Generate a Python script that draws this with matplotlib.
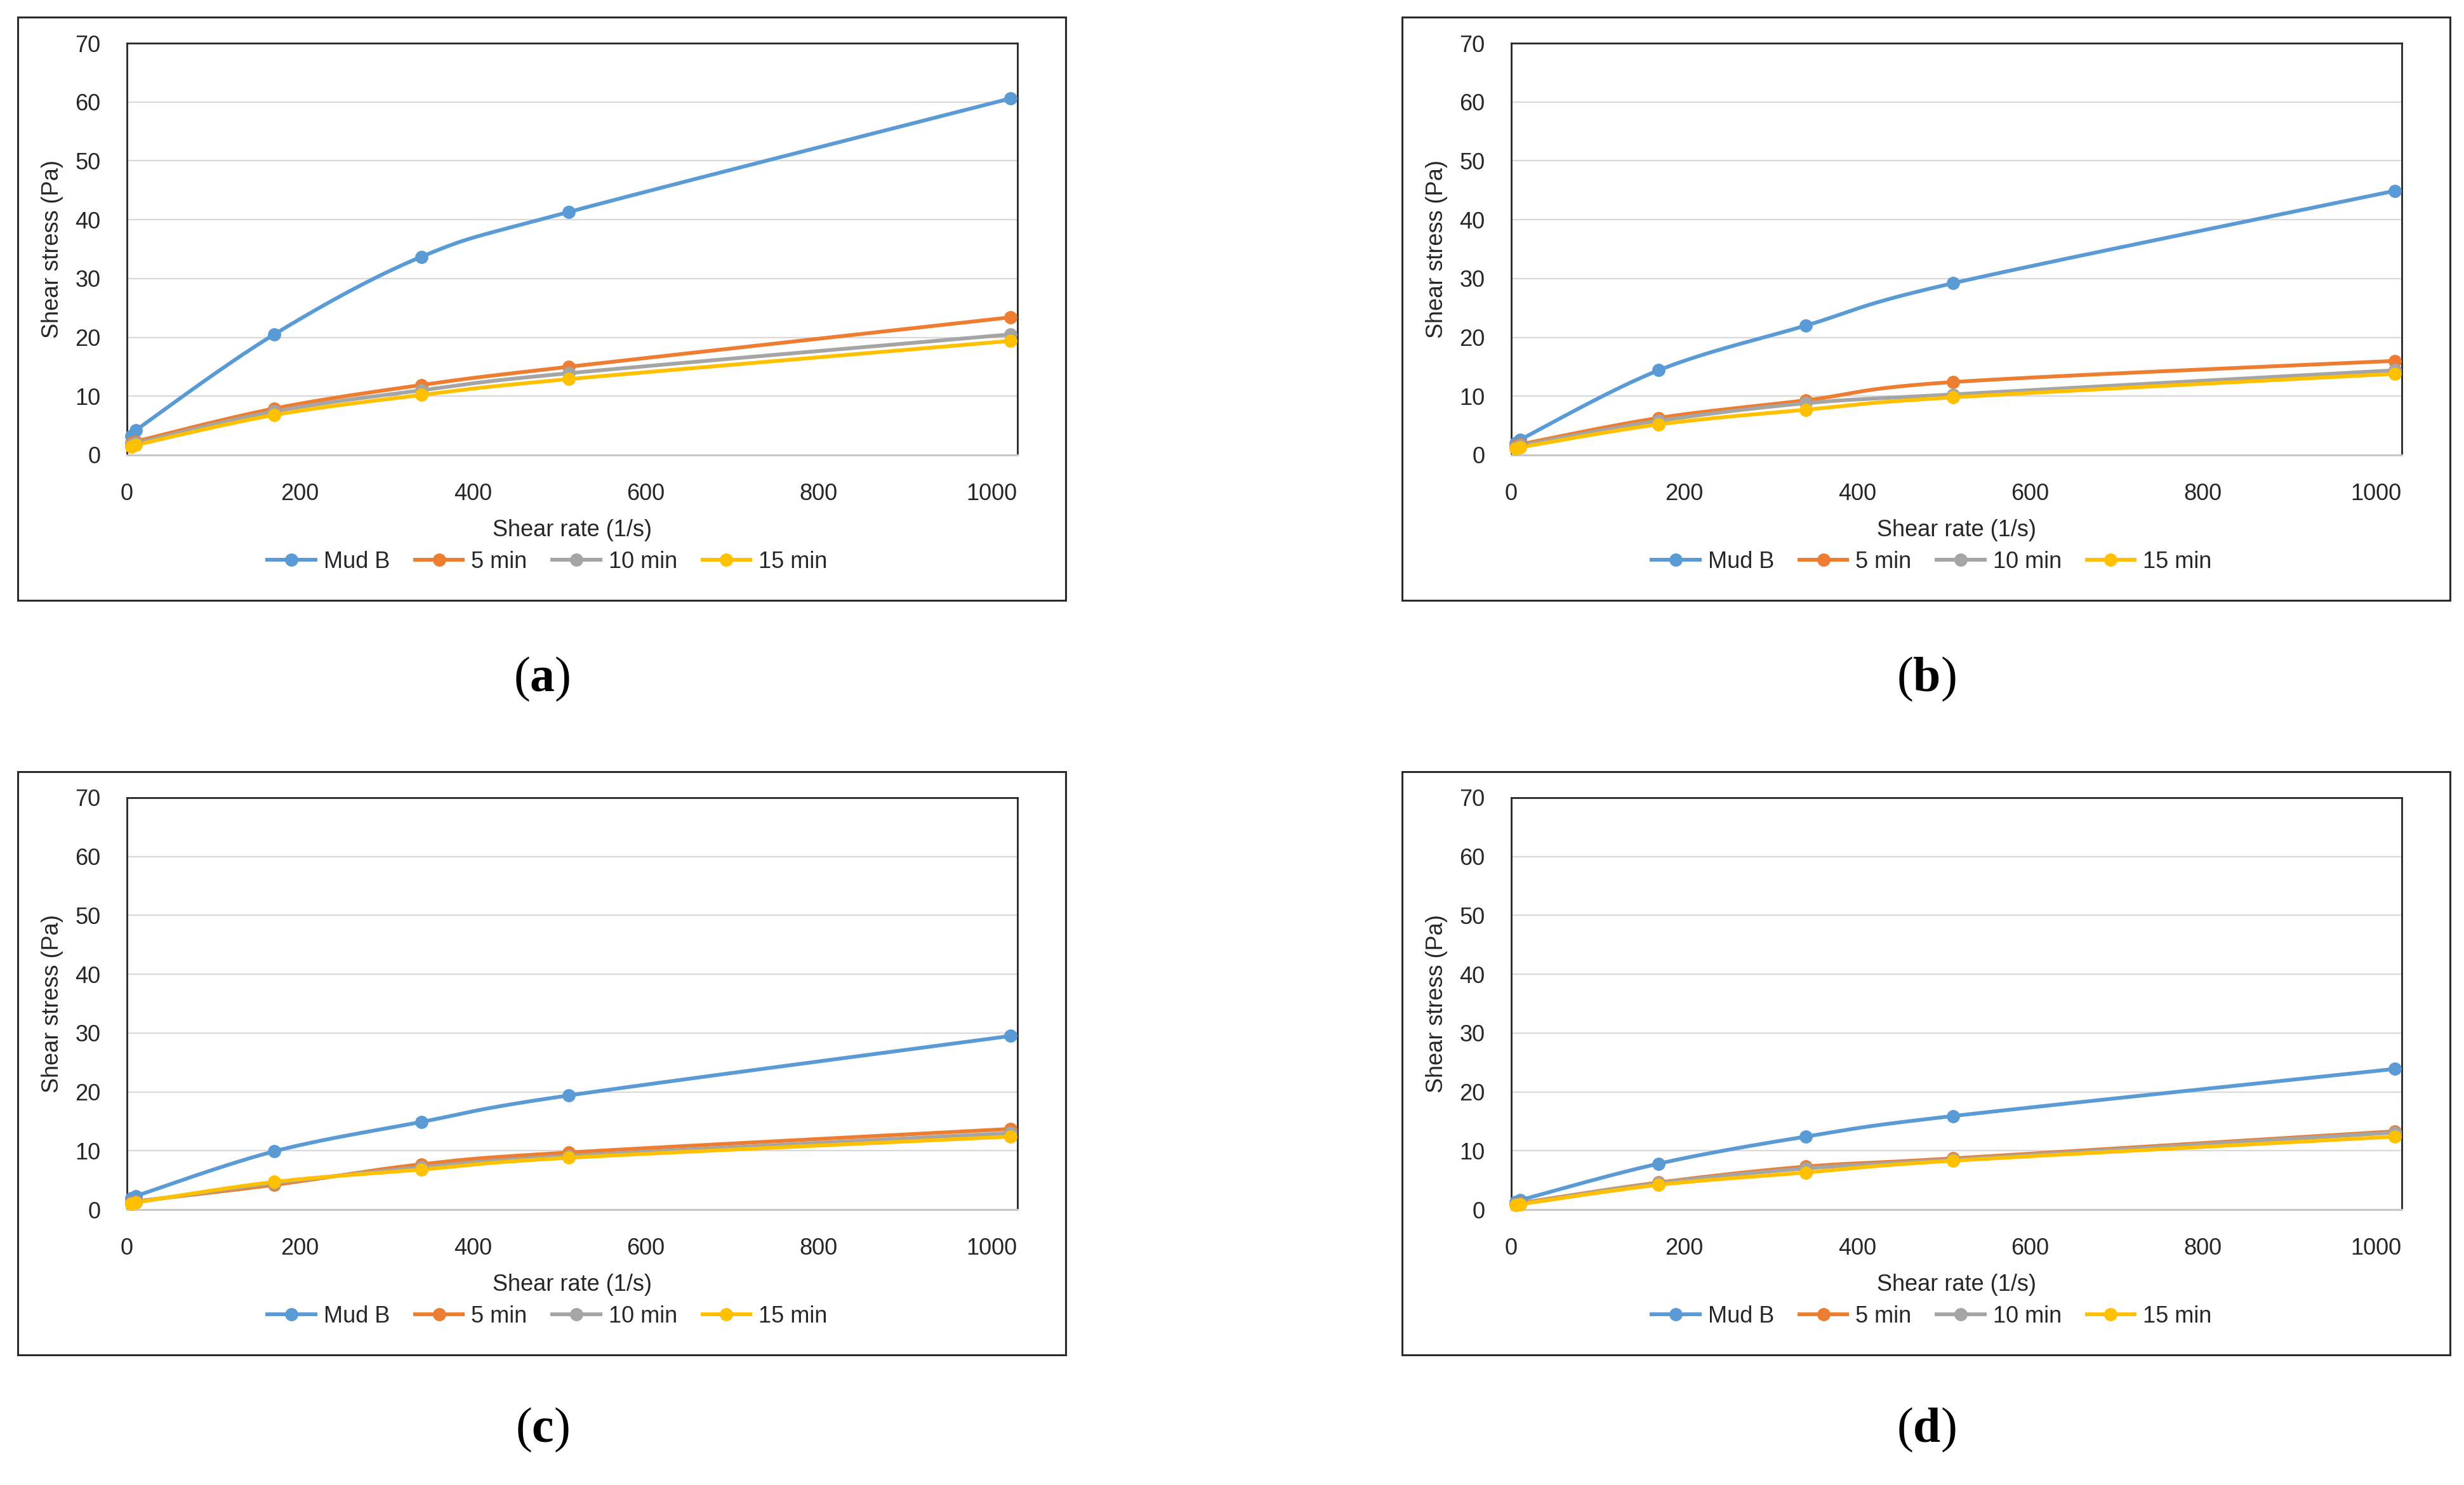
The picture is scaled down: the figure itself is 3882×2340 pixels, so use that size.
import numpy as np
import matplotlib
matplotlib.use("Agg")
import matplotlib.pyplot as plt
from matplotlib.lines import Line2D
from matplotlib.patches import Rectangle

plt.rcParams.update({
    "font.family": ["Liberation Sans", "DejaVu Sans"],
    "font.size": 26,
    "mathtext.fontset": "custom",
    "mathtext.rm": "Liberation Serif",
    "mathtext.bf": "Liberation Serif:bold",
})

# shear rates (1/s) of the viscometer readings
shear_rate = [5.1, 10.2, 170.3, 340.6, 510.9, 1021.8]
series_names = ["Mud B", "5 min", "10 min", "15 min"]
series_colors = ["#5B9BD5", "#ED7D31", "#A5A5A5", "#FFC000"]

# panel (a)
mud_a = [3.2, 4.2, 20.5, 33.7, 41.3, 60.6]
m5_a = [2.0, 2.3, 7.9, 11.9, 15.0, 23.4]
m10_a = [1.7, 2.0, 7.4, 11.0, 13.9, 20.5]
m15_a = [1.4, 1.7, 6.8, 10.2, 12.9, 19.4]
# panel (b)
mud_b = [2.0, 2.6, 14.4, 22.0, 29.2, 44.9]
m5_b = [1.5, 1.8, 6.3, 9.3, 12.4, 16.0]
m10_b = [1.3, 1.6, 5.8, 8.8, 10.3, 14.4]
m15_b = [1.1, 1.3, 5.2, 7.7, 9.8, 13.8]
# panel (c)
mud_c = [1.9, 2.3, 9.9, 14.9, 19.4, 29.5]
m5_c = [1.2, 1.4, 4.2, 7.7, 9.7, 13.7]
m10_c = [1.1, 1.3, 4.5, 7.2, 9.1, 13.0]
m15_c = [1.0, 1.2, 4.7, 6.8, 8.8, 12.4]
# panel (d)
mud_d = [1.3, 1.6, 7.8, 12.4, 15.9, 23.9]
m5_d = [0.9, 1.1, 4.6, 7.3, 8.7, 13.3]
m10_d = [0.9, 1.0, 4.5, 7.0, 8.5, 13.1]
m15_d = [0.8, 0.9, 4.2, 6.3, 8.3, 12.4]

panels = [
    ("a", [mud_a, m5_a, m10_a, m15_a]),
    ("b", [mud_b, m5_b, m10_b, m15_b]),
    ("c", [mud_c, m5_c, m10_c, m15_c]),
    ("d", [mud_d, m5_d, m10_d, m15_d]),
]

W, H = 3882, 2340
LW = 4.3
MS = 14


def smooth(xs, ys, n=30):
    # Excel-like smoothed line: cubic Bezier through the points
    p = np.column_stack([xs, ys]).astype(float)
    ext = np.vstack([p[0], p, p[-1]])
    out = [p[0]]
    t = np.linspace(0, 1, n + 1)[1:, None]
    for i in range(len(p) - 1):
        p0, p1, p2, p3 = ext[i], ext[i + 1], ext[i + 2], ext[i + 3]
        c1 = p1 + (p2 - p0) / 6.0
        c2 = p2 - (p3 - p1) / 6.0
        seg = ((1 - t) ** 3) * p1 + 3 * ((1 - t) ** 2) * t * c1 + 3 * (1 - t) * t ** 2 * c2 + t ** 3 * p2
        out.extend(seg)
    out = np.array(out)
    return out[:, 0], out[:, 1]


fig = plt.figure(figsize=(W / 100, H / 100), dpi=100)

box_x = [28, 2209]
box_y = [27, 1216]
plot_w, plot_h = 1403, 649

for k, (tag, series) in enumerate(panels):
    col, row = k % 2, k // 2
    bx, by = box_x[col], box_y[row]
    # chart area border
    fig.patches.append(Rectangle((bx / W, 1 - (by + 919) / H), 1651 / W, 919 / H,
                                 transform=fig.transFigure, fill=False,
                                 edgecolor="#2b2b2b", linewidth=2.2))
    left = bx + 172
    top = by + 41
    ax = fig.add_axes([left / W, 1 - (top + plot_h) / H, plot_w / W, plot_h / H])

    for vals, name, c in zip(series, series_names, series_colors):
        sx, sy = smooth(shear_rate, vals)
        ax.plot(sx, sy, color=c, lw=LW, solid_capstyle="round", zorder=3)
        ax.plot(shear_rate, vals, "o", color=c, ms=MS, zorder=4, clip_on=False)

    ax.set_xlim(0, 1030)
    ax.set_ylim(0, 70)
    ax.set_xticks(range(0, 1001, 200))
    ax.set_yticks(range(0, 71, 10))
    ax.grid(axis="y", color="#d9d9d9", linewidth=1.6)
    ax.set_axisbelow(True)
    ax.tick_params(length=0, labelsize=26, labelcolor="#262626")
    ax.tick_params(axis="y", pad=30)
    ax.tick_params(axis="x", pad=32)
    for s in ["left", "top", "right"]:
        ax.spines[s].set_color("#262626")
        ax.spines[s].set_linewidth(2.0)
    ax.spines["bottom"].set_color("#c8c8c8")
    ax.spines["bottom"].set_linewidth(2.2)

    ax.text(0.5, -0.182, "Shear rate (1/s)", transform=ax.transAxes,
            ha="center", va="center", fontsize=26, color="#262626")
    ax.text(-0.0834, 0.5, "Shear stress (Pa)", transform=ax.transAxes,
            ha="center", va="center", rotation=90, fontsize=26, color="#262626")

    handles = [Line2D([], [], color=c, lw=LW, marker="o", ms=MS) for c in series_colors]
    ax.legend(handles, series_names, loc="center", bbox_to_anchor=(0.472, -0.259),
              ncol=4, frameon=False, fontsize=26, handlelength=2.1,
              handletextpad=0.35, columnspacing=1.1, labelcolor="#262626")

    cx = bx + 826
    cy = 1070 if row == 0 else 2253
    fig.text(cx / W, 1 - cy / H, "($\\mathbf{%s}$)" % tag, ha="center", va="center",
             fontsize=56, family="Liberation Serif")

fig.savefig("out.png", dpi=100)
